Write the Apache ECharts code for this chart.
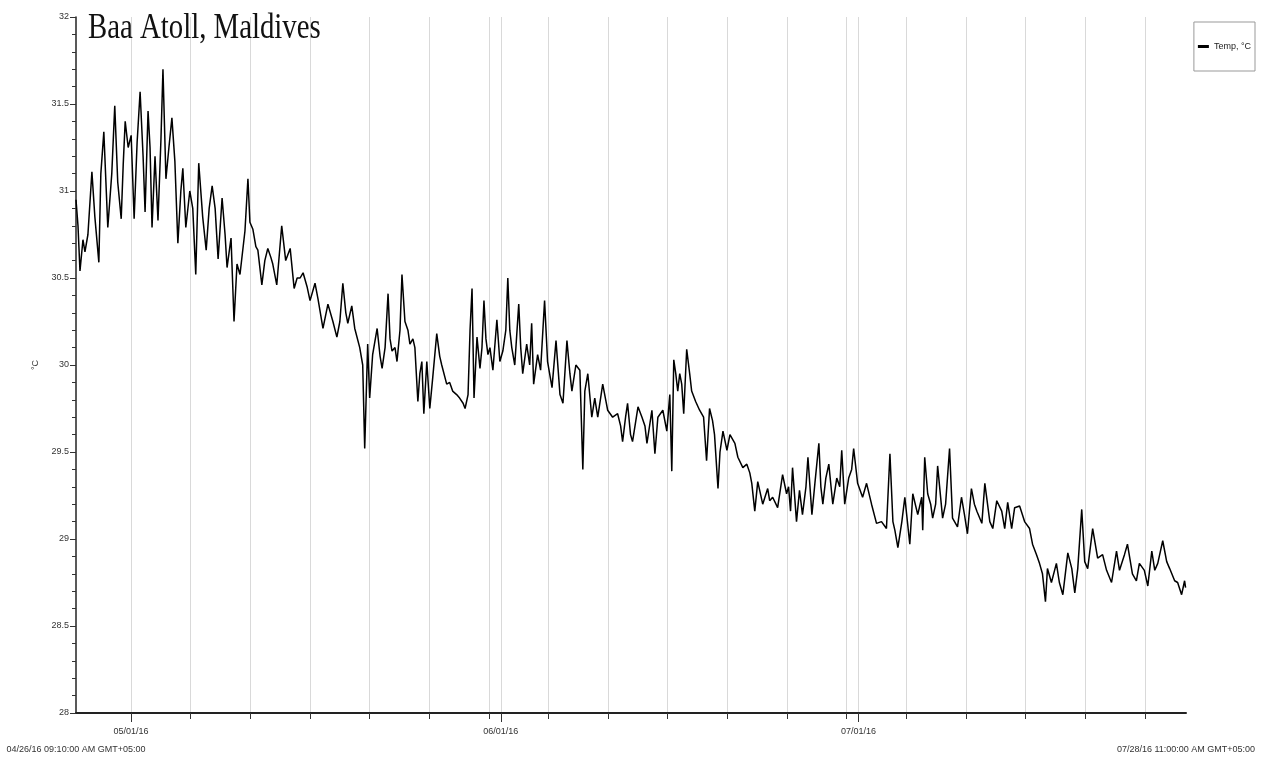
<!DOCTYPE html>
<html><head><meta charset="utf-8">
<script src="https://cdn.jsdelivr.net/npm/echarts@6/dist/echarts.min.js"></script>
<style>html,body{margin:0;padding:0;background:#fff}#c{width:1266px;height:758px}</style>
</head><body><div id="c"></div>
<script>
const chartTitle = 'Baa Atoll, Maldives';
const seriesName = 'Temp, °C';
const yAxisName = '°C';
const startLabel = '04/26/16 09:10:00 AM GMT+05:00';
const endLabel = '07/28/16 11:00:00 AM GMT+05:00';
const loggerStart = '2016-04-26T09:10';
const loggerEnd = '2016-07-28T11:00';
const gridDates = ['2016-05-01','2016-05-06','2016-05-11','2016-05-16','2016-05-21','2016-05-26','2016-05-31',
  '2016-06-01','2016-06-05','2016-06-10','2016-06-15','2016-06-20','2016-06-25','2016-06-30',
  '2016-07-01','2016-07-05','2016-07-10','2016-07-15','2016-07-20','2016-07-25'];
const monthDates = ['2016-05-01','2016-06-01','2016-07-01'];
const yTicks = [28, 28.5, 29, 29.5, 30, 30.5, 31, 31.5, 32];

// hours since logger start (04/26/16 09:10)
const hours = [
0,4,8,14,18,24,32,38,46,50,
56,64,72,78,84,91,95,99,105,111,
117,123,129,135,139,145,149,153,159,165,
171,175,181,187,193,199,205,211,215,221,
229,235,241,247,255,262,268,274,280,286,
294,300,304,312,318,324,330,340,346,350,
356,362,366,374,380,386,392,396,404,414,
422,431,439,445,451,457,465,471,481,487,
497,507,517,525,531,537,543,547,555,561,
571,577,581,587,591,597,606,612,616,622,
628,632,636,642,646,652,656,662,668,672,
678,682,688,692,696,700,706,712,718,726,
732,736,746,752,758,766,772,779,783,789,
793,797,801,807,813,817,821,825,829,833,
839,847,853,859,865,869,873,877,883,891,
895,899,907,913,917,921,929,935,943,949,
958,966,974,980,988,994,998,1006,1014,1020,
1024,1030,1038,1044,1050,1060,1066,1070,1080,1090,
1096,1100,1106,1110,1116,1120,1131,1139,1145,1149,
1159,1165,1171,1181,1189,1195,1199,1203,1207,1211,
1215,1219,1223,1229,1235,1239,1247,1255,1263,1269,
1275,1281,1285,1292,1296,1302,1310,1316,1326,1332,
1342,1350,1356,1360,1366,1372,1382,1392,1396,1402,
1412,1422,1430,1434,1438,1442,1450,1456,1462,1469,
1473,1481,1487,1495,1499,1503,1509,1515,1523,1531,
1537,1541,1547,1555,1561,1565,1573,1583,1591,1601,
1611,1621,1631,1638,1644,1648,1654,1662,1668,1678,
1684,1694,1702,1704,1708,1714,1720,1724,1730,1734,
1744,1750,1758,1764,1774,1782,1788,1794,1802,1808,
1813,1823,1829,1839,1845,1853,1863,1869,1875,1883,
1889,1899,1909,1919,1925,1933,1939,1945,1951,1955,
1963,1973,1979,1986,1996,2004,2010,2016,2024,2030,
2036,2046,2056,2066,2074,2084,2094,2100,2110,2116,
2126,2134,2140,2150,2157,2165,2171,2177,2187,2195,
2201,2211,2217,2225,2231,2233];

const temps = [
30.95,30.80,30.54,30.72,30.65,30.75,31.11,30.85,30.59,31.10,
31.34,30.79,31.10,31.49,31.05,30.84,31.15,31.40,31.25,31.32,
30.84,31.28,31.57,31.20,30.88,31.46,31.25,30.79,31.20,30.83,
31.30,31.70,31.07,31.25,31.42,31.17,30.70,31.00,31.13,30.79,
31.00,30.90,30.52,31.16,30.85,30.66,30.90,31.03,30.90,30.61,
30.96,30.75,30.56,30.73,30.25,30.58,30.52,30.77,31.07,30.82,
30.78,30.68,30.66,30.46,30.60,30.67,30.62,30.58,30.46,30.80,
30.60,30.67,30.44,30.50,30.50,30.53,30.45,30.37,30.47,30.38,
30.21,30.35,30.25,30.16,30.25,30.47,30.30,30.24,30.34,30.21,
30.10,30.00,29.52,30.12,29.81,30.06,30.21,30.05,29.98,30.10,
30.41,30.15,30.08,30.10,30.02,30.20,30.52,30.25,30.20,30.12,
30.15,30.10,29.79,29.95,30.02,29.72,30.02,29.75,29.93,30.18,
30.05,30.00,29.89,29.90,29.85,29.83,29.81,29.78,29.75,29.83,
30.20,30.44,29.81,30.16,29.98,30.10,30.37,30.15,30.06,30.10,
29.97,30.26,30.02,30.08,30.20,30.50,30.20,30.10,30.00,30.35,
30.10,29.95,30.12,30.00,30.24,29.89,30.06,29.97,30.37,30.02,
29.87,30.14,29.83,29.78,30.14,29.95,29.85,30.00,29.97,29.40,
29.85,29.95,29.70,29.81,29.70,29.89,29.80,29.74,29.70,29.72,
29.65,29.56,29.70,29.78,29.60,29.56,29.76,29.70,29.65,29.55,
29.74,29.49,29.70,29.74,29.62,29.83,29.39,30.03,29.95,29.85,
29.95,29.89,29.72,30.09,29.95,29.85,29.79,29.74,29.70,29.45,
29.75,29.68,29.60,29.29,29.50,29.62,29.51,29.60,29.55,29.47,
29.41,29.43,29.38,29.32,29.16,29.33,29.20,29.29,29.22,29.24,
29.18,29.37,29.26,29.30,29.16,29.41,29.10,29.28,29.14,29.30,
29.47,29.14,29.32,29.55,29.30,29.20,29.35,29.43,29.20,29.35,
29.30,29.51,29.20,29.35,29.40,29.52,29.32,29.24,29.32,29.20,
29.09,29.10,29.06,29.49,29.10,29.05,28.95,29.10,29.24,28.97,
29.26,29.14,29.24,29.05,29.47,29.26,29.20,29.12,29.20,29.42,
29.12,29.20,29.52,29.12,29.07,29.24,29.14,29.03,29.29,29.20,
29.16,29.09,29.32,29.10,29.06,29.22,29.16,29.06,29.21,29.06,
29.18,29.19,29.10,29.06,28.97,28.91,28.86,28.80,28.64,28.83,
28.75,28.86,28.75,28.68,28.92,28.83,28.69,28.83,29.17,28.87,
28.83,29.06,28.89,28.91,28.82,28.75,28.93,28.82,28.91,28.97,
28.80,28.76,28.86,28.82,28.73,28.93,28.82,28.86,28.99,28.87,
28.83,28.76,28.75,28.68,28.76,28.72];

function ts(s) {
  const m = s.match(/(\d+)-(\d+)-(\d+)(?:T(\d+):(\d+))?/);
  return Date.UTC(+m[1], +m[2] - 1, +m[3], +(m[4] || 0), +(m[5] || 0));
}
const startTs = ts(loggerStart), endTs = ts(loggerEnd);
const gridTs = gridDates.map(ts);
const monthTs = monthDates.map(ts);
const n = Math.min(hours.length, temps.length);
const data = [];
for (let i = 0; i < n; i++) data.push([startTs + hours[i] * 3600000, temps[i]]);
const pad = v => (v < 10 ? '0' : '') + v;
function fmtMonth(v) {
  const d = new Date(v);
  return pad(d.getUTCMonth() + 1) + '/' + pad(d.getUTCDate()) + '/' + pad(d.getUTCFullYear() % 100);
}
function fmtEnds(v) {
  return Math.abs(v - startTs) < Math.abs(v - endTs) ? startLabel : endLabel;
}

const chart = echarts.init(document.getElementById('c'), null, {renderer: 'canvas'});
chart.setOption({
  animation: false,
  backgroundColor: '#fff',
  textStyle: {fontFamily: '"Liberation Sans", Arial, sans-serif'},
  grid: {left: 76, right: 80, top: 17, bottom: 45, containLabel: false},
  graphic: [{
    type: 'text', x: 88, y: 11, scaleX: 0.8, z: 10,
    style: {text: chartTitle, font: '36px "Liberation Serif", "DejaVu Serif", serif', fill: '#111', textVerticalAlign: 'top'}
  }],
  legend: {
    show: true, right: 11, top: 22, orient: 'vertical',
    padding: [20, 4, 20, 4], borderColor: '#999', borderWidth: 1,
    itemWidth: 11, itemHeight: 3, icon: 'rect',
    textStyle: {fontSize: 9, color: '#222'},
    data: [seriesName]
  },
  xAxis: [{
    type: 'value', min: startTs, max: endTs,
    axisLine: {show: true, lineStyle: {color: '#222', width: 2}},
    axisTick: {show: true, customValues: gridTs, length: 6, lineStyle: {color: '#333', width: 1}},
    splitLine: {show: true, lineStyle: {color: '#d9d9d9', width: 1}},
    axisLabel: {show: false}
  }, {
    type: 'value', min: startTs, max: endTs, position: 'bottom',
    axisLine: {show: false},
    axisTick: {show: true, customValues: monthTs, length: 9, lineStyle: {color: '#333', width: 1}},
    splitLine: {show: false},
    axisLabel: {show: true, customValues: monthTs, formatter: fmtMonth,
      fontSize: 9, color: '#333', margin: 14}
  }, {
    type: 'value', min: startTs, max: endTs, position: 'bottom',
    axisLine: {show: false},
    axisTick: {show: false},
    splitLine: {show: false},
    axisLabel: {show: true, customValues: [startTs, endTs], formatter: fmtEnds,
      showMinLabel: true, showMaxLabel: true,
      fontSize: 9, color: '#333', margin: 32}
  }],
  yAxis: {
    type: 'value', min: yTicks[0], max: yTicks[yTicks.length - 1], interval: yTicks[1] - yTicks[0],
    name: yAxisName, nameLocation: 'middle', nameGap: 36, nameRotate: 90,
    nameTextStyle: {fontSize: 9, color: '#333'},
    axisLine: {show: true, lineStyle: {color: '#222', width: 1.5}},
    axisTick: {show: true, length: 6, lineStyle: {color: '#333'}},
    minorTick: {show: true, splitNumber: 5, length: 4, lineStyle: {color: '#333'}},
    splitLine: {show: false},
    axisLabel: {fontSize: 9, color: '#333', margin: 7}
  },
  series: [{
    name: seriesName, type: 'line', xAxisIndex: 0, data: data,
    showSymbol: false, symbol: 'none', sampling: 'none',
    lineStyle: {color: '#000', width: 1.5}, itemStyle: {color: '#000'}
  }]
});
</script></body></html>
